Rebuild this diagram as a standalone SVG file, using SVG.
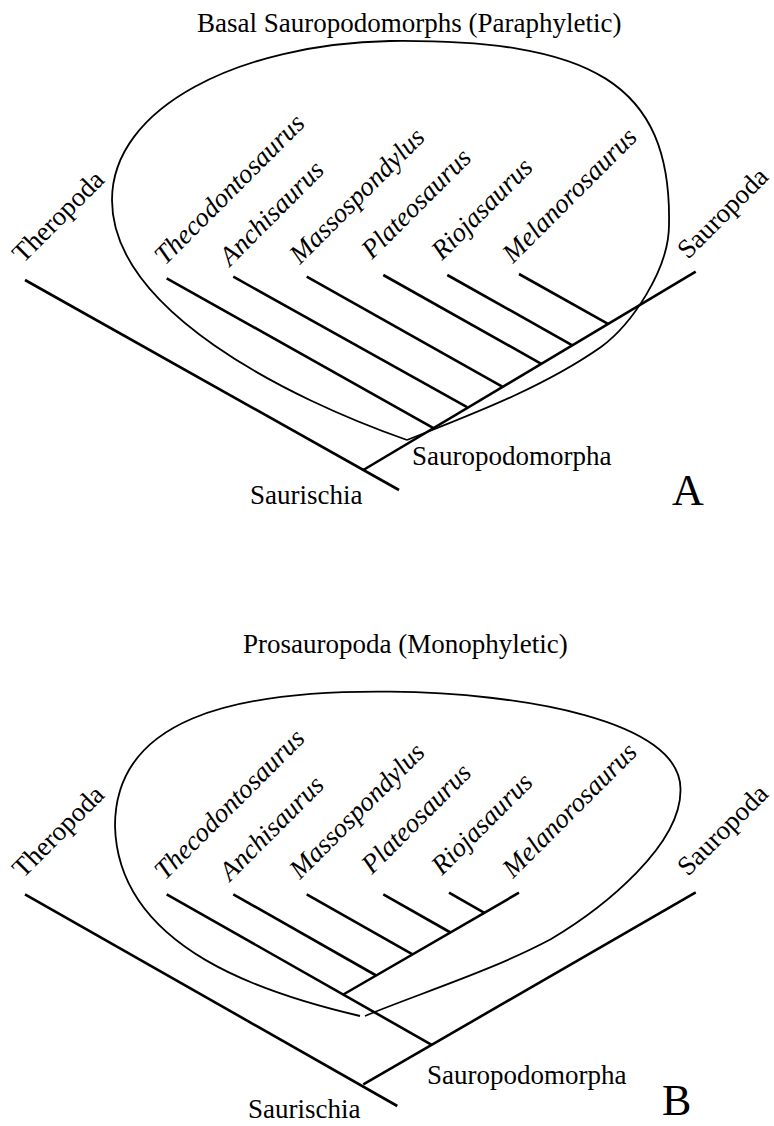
<svg xmlns="http://www.w3.org/2000/svg" width="774" height="1126" viewBox="0 0 774 1126">
<style>
.t{font-family:"Liberation Serif","Times New Roman",serif;font-size:27px;fill:#000}
.i{font-style:italic}
.big{font-size:44px}
.br{stroke:#000;stroke-width:2.6;fill:none}
.loop{stroke:#000;stroke-width:1.8;fill:none}
</style>
<rect width="774" height="1126" fill="#fff"/>

<!-- Panel A -->
<g id="A-loop" class="loop">
<path d="M407,440 C287,398 112,310 112,200 C112,107 240,44 390,41 C590,39 672,82 669,225 C669,270 631,325 601,347 C541,389 467,416 407,440"/>
</g>
<g id="A-connectors" class="br">
<line x1="25" y1="280" x2="399" y2="490"/>
<line x1="363.3" y1="470" x2="695.7" y2="271.7"/>
<line x1="166.7" y1="278.3" x2="433.5" y2="428.2"/>
<line x1="233.3" y1="276.7" x2="467.1" y2="407.2"/>
<line x1="306.7" y1="276.7" x2="502.7" y2="386.8"/>
<line x1="383.3" y1="275" x2="541.3" y2="363.8"/>
<line x1="447.3" y1="275" x2="572.4" y2="345.3"/>
<line x1="519" y1="274" x2="608" y2="323.9"/>
</g>
<g id="A-title"><text class="t" x="197" y="32">Basal Sauropodomorphs (Paraphyletic)</text></g>
<g id="A-theropoda"><text class="t" transform="translate(23,264) rotate(-45)">Theropoda</text></g>
<g id="A-thecodontosaurus"><text class="t i" transform="translate(165,266) rotate(-45)">Thecodontosaurus</text></g>
<g id="A-anchisaurus"><text class="t i" transform="translate(230,267) rotate(-45)">Anchisaurus</text></g>
<g id="A-massospondylus"><text class="t i" transform="translate(300,265) rotate(-45)">Massospondylus</text></g>
<g id="A-plateosaurus"><text class="t i" transform="translate(372,260) rotate(-45)">Plateosaurus</text></g>
<g id="A-riojasaurus"><text class="t i" transform="translate(442,261) rotate(-45)">Riojasaurus</text></g>
<g id="A-melanorosaurus"><text class="t i" transform="translate(513,264) rotate(-45)">Melanorosaurus</text></g>
<g id="A-sauropoda"><text class="t" transform="translate(688,260) rotate(-45)">Sauropoda</text></g>
<g id="A-sauropodomorpha"><text class="t" x="412" y="465">Sauropodomorpha</text></g>
<g id="A-saurischia"><text class="t" x="250" y="504">Saurischia</text></g>
<g id="A-letter"><text class="t big" x="672" y="505">A</text></g>

<!-- Panel B -->
<g id="B-loop" class="loop">
<path d="M360,1016 C270,995 118,950 115,826 C115,720 230,690 390,691.7 C520,693 682,720 680.5,790 C681,845 605,907 550.7,939.3 C490.7,971.3 415,995 365,1016"/>
</g>
<g id="B-connectors" class="br">
<line x1="25" y1="894.3" x2="397.3" y2="1106"/>
<line x1="363.3" y1="1084.3" x2="695.7" y2="892.3"/>
<line x1="166.7" y1="894.3" x2="431.7" y2="1044.8"/>
<line x1="343.3" y1="994.5" x2="519" y2="892.7"/>
<line x1="233.3" y1="894.3" x2="376.2" y2="975.5"/>
<line x1="306.7" y1="894.3" x2="412.6" y2="954.4"/>
<line x1="383.3" y1="894.3" x2="450.5" y2="932.5"/>
<line x1="449" y1="892.7" x2="484.4" y2="912.8"/>
</g>
<g id="B-title"><text class="t" x="243" y="653">Prosauropoda (Monophyletic)</text></g>
<g id="B-theropoda"><text class="t" transform="translate(23,879) rotate(-45)">Theropoda</text></g>
<g id="B-thecodontosaurus"><text class="t i" transform="translate(165,881) rotate(-45)">Thecodontosaurus</text></g>
<g id="B-anchisaurus"><text class="t i" transform="translate(230,882) rotate(-45)">Anchisaurus</text></g>
<g id="B-massospondylus"><text class="t i" transform="translate(300,880) rotate(-45)">Massospondylus</text></g>
<g id="B-plateosaurus"><text class="t i" transform="translate(372,875) rotate(-45)">Plateosaurus</text></g>
<g id="B-riojasaurus"><text class="t i" transform="translate(442,876) rotate(-45)">Riojasaurus</text></g>
<g id="B-melanorosaurus"><text class="t i" transform="translate(513,879) rotate(-45)">Melanorosaurus</text></g>
<g id="B-sauropoda"><text class="t" transform="translate(688,877) rotate(-45)">Sauropoda</text></g>
<g id="B-sauropodomorpha"><text class="t" x="427" y="1084">Sauropodomorpha</text></g>
<g id="B-saurischia"><text class="t" x="248" y="1118">Saurischia</text></g>
<g id="B-letter"><text class="t big" x="662" y="1115">B</text></g>
</svg>
